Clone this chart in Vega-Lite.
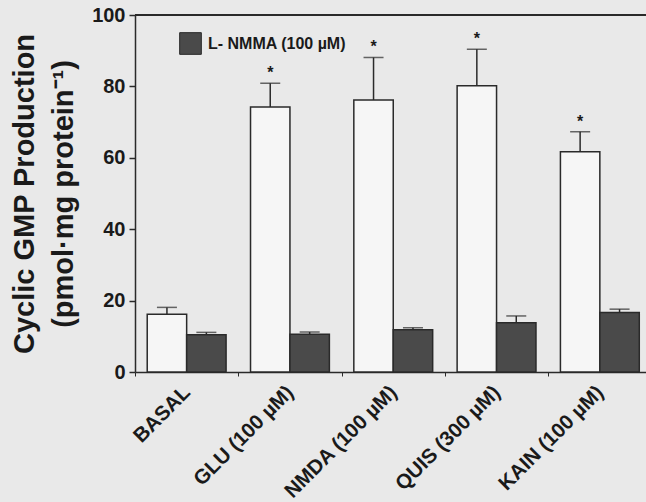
{
  "$schema": "https://vega.github.io/schema/vega-lite/v6.json",
  "autosize": "none",
  "width": 511,
  "height": 357,
  "padding": {"left": 135, "top": 15, "right": 0, "bottom": 130},
  "background": "#e9e9e9",
  "view": {"stroke": null},
  "config": {
    "font": "Liberation Sans",
    "axis": {"labelFont": "Liberation Sans", "titleFont": "Liberation Sans", "domainColor": "#2a2a2a", "tickColor": "#2a2a2a", "labelColor": "#1a1a1a", "titleColor": "#1a1a1a", "grid": false}
  },
  "data": {
    "values": [
      {"group": "BASAL", "cond": "Control", "value": 16.2, "err": 18.1, "sig": ""},
      {"group": "BASAL", "cond": "L- NMMA (100 µM)", "value": 10.4, "err": 11.1, "sig": ""},
      {"group": "GLU (100 µM)", "cond": "Control", "value": 74.2, "err": 80.9, "sig": "*"},
      {"group": "GLU (100 µM)", "cond": "L- NMMA (100 µM)", "value": 10.6, "err": 11.2, "sig": ""},
      {"group": "NMDA (100 µM)", "cond": "Control", "value": 76.2, "err": 88.1, "sig": "*"},
      {"group": "NMDA (100 µM)", "cond": "L- NMMA (100 µM)", "value": 11.8, "err": 12.4, "sig": ""},
      {"group": "QUIS (300 µM)", "cond": "Control", "value": 80.2, "err": 90.4, "sig": "*"},
      {"group": "QUIS (300 µM)", "cond": "L- NMMA (100 µM)", "value": 13.8, "err": 15.7, "sig": ""},
      {"group": "KAIN (100 µM)", "cond": "Control", "value": 61.7, "err": 67.3, "sig": "*"},
      {"group": "KAIN (100 µM)", "cond": "L- NMMA (100 µM)", "value": 16.7, "err": 17.6, "sig": ""}
    ]
  },
  "layer": [
    {
      "encoding": {
        "x": {
          "field": "group", "type": "nominal",
          "sort": ["BASAL", "GLU (100 µM)", "NMDA (100 µM)", "QUIS (300 µM)", "KAIN (100 µM)"],
          "scale": {"range": [0, 516.5], "paddingInner": 0, "paddingOuter": 0},
          "axis": {"title": null, "labelAngle": -45, "labelAlign": "right", "labelBaseline": "middle", "labelFontSize": 20.5, "labelFontWeight": "bold", "tickBand": "extent", "tickSize": 4, "labelPadding": 13, "domainWidth": 1.5, "labelOverlap": false}
        },
        "xOffset": {
          "field": "cond", "type": "nominal",
          "scale": {"paddingInner": 0, "paddingOuter": 0.31}
        }
      },
      "layer": [
        {
          "mark": {"type": "bar", "stroke": "#2a2a2a", "strokeWidth": 1.5},
          "encoding": {
            "y": {
              "field": "value", "type": "quantitative",
              "scale": {"domain": [0, 100], "nice": false},
              "axis": {
                "title": ["Cyclic GMP Production", "(pmol·mg protein⁻¹)"],
                "titleFontSize": 29, "titleFontWeight": "bold", "titleLineHeight": 39, "titlePadding": 13,
                "values": [0, 10, 20, 30, 40, 50, 60, 70, 80, 90, 100],
                "labelExpr": "datum.value % 20 == 0 ? datum.label : ''",
                "labelFontSize": 20, "labelFontWeight": "bold", "tickSize": 6, "labelPadding": 4, "domainWidth": 1.5, "tickWidth": 1.5
              }
            },
            "color": {
              "field": "cond", "type": "nominal",
              "scale": {"domain": ["Control", "L- NMMA (100 µM)"], "range": ["#f6f6f6", "#4a4a4a"]},
              "legend": {
                "title": null, "values": ["L- NMMA (100 µM)"], "orient": "none", "legendX": 44, "legendY": 17,
                "padding": 0, "symbolType": "square", "symbolSize": 470, "symbolStrokeColor": "#2a2a2a", "symbolStrokeWidth": 1,
                "labelFontSize": 16, "labelFontWeight": "bold", "labelFont": "Liberation Sans", "labelColor": "#1a1a1a", "labelOffset": 6
              }
            }
          }
        },
        {
          "mark": {"type": "rule", "stroke": "#2a2a2a", "strokeWidth": 1.5},
          "encoding": {"y": {"field": "value", "type": "quantitative"}, "y2": {"field": "err"}}
        },
        {
          "mark": {"type": "tick", "orient": "horizontal", "color": "#2a2a2a", "size": 20, "thickness": 1.5},
          "encoding": {"y": {"field": "err", "type": "quantitative"}}
        },
        {
          "transform": [{"filter": "datum.sig == '*'"}],
          "mark": {"type": "text", "fontSize": 16, "fontWeight": "bold", "baseline": "middle", "dy": -10, "color": "#1a1a1a"},
          "encoding": {"y": {"field": "err", "type": "quantitative"}, "text": {"field": "sig"}}
        }
      ]
    },
    {
      "mark": {"type": "rule", "stroke": "#2a2a2a", "strokeWidth": 1.5},
      "encoding": {"y": {"datum": 100}}
    }
  ]
}
